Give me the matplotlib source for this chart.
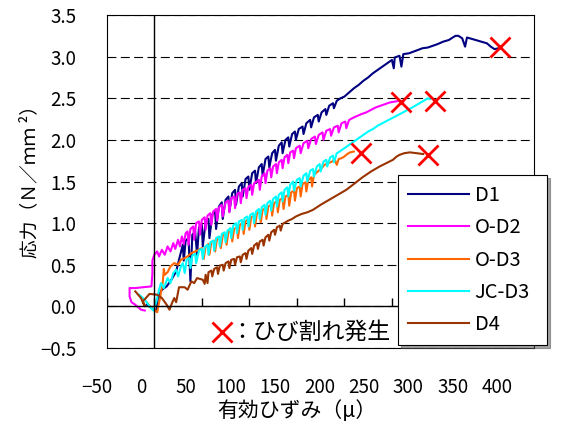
import matplotlib.pyplot as plt

plt.rcParams['font.family'] = ['Noto Sans CJK JP', 'DejaVu Sans']

# strain (micro) / stress (N/mm2)
d1_x = [-8, -3, 2, 4, 8, 13, 18, 23, 26, 30, 31, 33, 36, 38, 40, 43, 45, 47, 50, 51,
        54, 57, 58, 61, 64, 65, 68, 71, 72, 75, 78, 79, 82, 85, 86, 89, 92, 93, 96, 99,
        100, 103, 106, 107, 110, 113, 114, 117, 120, 121, 124, 127, 128, 131, 134, 135, 138, 141, 142, 145,
        148, 149, 152, 156, 157, 160, 164, 165, 168, 172, 173, 176, 180, 181, 184, 188, 189, 192, 196, 200,
        205, 210, 215, 220, 225, 230, 235, 240, 245, 250, 252, 253, 258, 260, 262, 268, 275, 282, 288, 293,
        298, 304, 310, 314, 317, 320, 324, 327, 329, 332, 338, 344, 350, 354, 358, 362]
d1_y = [0.02, -0.02, -0.06, 0.12, 0.2, 0.24, 0.32, 0.42, 0.56, 0.74, 0.55, 0.79, 0.82, 0.3, 0.86, 0.9, 0.62, 0.95, 0.98, 0.72,
        1.02, 1.05, 0.82, 1.1, 1.14, 0.93, 1.2, 1.25, 1.05, 1.28, 1.32, 1.14, 1.36, 1.4, 1.22, 1.44, 1.48, 1.32, 1.53, 1.56,
        1.4, 1.6, 1.63, 1.48, 1.67, 1.71, 1.57, 1.77, 1.8, 1.67, 1.84, 1.88, 1.75, 1.93, 1.97, 1.84, 2.0, 2.03, 1.92, 2.07,
        2.1, 2.0, 2.13, 2.16, 2.07, 2.2, 2.24, 2.15, 2.27, 2.3, 2.22, 2.33, 2.37, 2.3, 2.41, 2.44, 2.38, 2.47, 2.5, 2.52,
        2.57, 2.62, 2.66, 2.71, 2.75, 2.8, 2.84, 2.88, 2.92, 2.96, 2.86, 2.99, 3.01, 2.88, 3.03, 3.04, 3.07, 3.1, 3.11, 3.13,
        3.15, 3.18, 3.2, 3.23, 3.25, 3.25, 3.22, 3.12, 3.23, 3.22, 3.2, 3.18, 3.16, 3.12, 3.09, 3.1]

o2_x = [-10, -14, -20, -24, -26, -26, -20, -12, -3, -2, -2, 0, 3, 5, 8, 11, 14, 17, 20, 22,
        25, 27, 29, 31, 33, 35, 36, 38, 41, 42, 44, 47, 48, 50, 53, 54, 56, 59, 60, 62,
        65, 66, 68, 71, 72, 75, 78, 79, 81, 84, 85, 87, 90, 91, 93, 96, 97, 99, 102, 103,
        105, 108, 110, 111, 113, 116, 117, 119, 122, 123, 125, 128, 129, 131, 134, 135, 137, 140, 141, 143,
        146, 147, 149, 153, 154, 157, 161, 162, 165, 169, 170, 173, 177, 178, 181, 185, 186, 189, 193, 194,
        197, 201, 202, 205, 210, 214, 218, 223, 228, 233, 238, 243, 248, 253, 258, 262]
o2_y = [-0.05, -0.04, 0.02, 0.05, 0.12, 0.22, 0.22, 0.23, 0.24, 0.4, 0.55, 0.62, 0.66, 0.6, 0.68, 0.62, 0.72, 0.66, 0.76, 0.69,
        0.8, 0.72, 0.84, 0.75, 0.88, 0.9, 0.74, 0.93, 0.96, 0.8, 1.0, 1.02, 0.86, 1.04, 1.07, 0.92, 1.09, 1.12, 0.98, 1.14,
        1.17, 1.03, 1.19, 1.22, 1.08, 1.25, 1.27, 1.13, 1.3, 1.32, 1.18, 1.35, 1.37, 1.24, 1.4, 1.42, 1.3, 1.44, 1.46, 1.34,
        1.48, 1.5, 1.52, 1.4, 1.56, 1.6, 1.48, 1.63, 1.66, 1.55, 1.68, 1.71, 1.6, 1.73, 1.76, 1.66, 1.79, 1.82, 1.72, 1.85,
        1.87, 1.78, 1.9, 1.93, 1.84, 1.96, 1.99, 1.9, 2.01, 2.04, 1.95, 2.06, 2.09, 2.0, 2.11, 2.13, 2.05, 2.15, 2.17, 2.09,
        2.2, 2.22, 2.14, 2.24, 2.27, 2.29, 2.31, 2.33, 2.36, 2.39, 2.41, 2.43, 2.45, 2.46, 2.47, 2.46]

o3_x = [-8, -3, 3, 6, 9, 10, 11, 14, 17, 21, 25, 28, 32, 35, 39, 43, 47, 50, 52, 54,
        57, 58, 60, 63, 64, 66, 69, 70, 72, 75, 76, 78, 81, 82, 84, 87, 88, 90, 93, 94,
        96, 99, 100, 102, 105, 106, 108, 111, 112, 114, 117, 118, 120, 123, 124, 126, 129, 130, 132, 135,
        136, 138, 141, 142, 144, 147, 148, 150, 153, 154, 156, 159, 160, 162, 165, 166, 168, 172, 176, 179,
        183, 187, 190, 192, 194, 197, 200, 203, 206, 210]
o3_y = [0.05, -0.02, -0.07, 0.1, 0.3, 0.45, 0.38, 0.41, 0.48, 0.52, 0.5, 0.56, 0.58, 0.6, 0.64, 0.66, 0.68, 0.7, 0.57, 0.72,
        0.75, 0.62, 0.77, 0.79, 0.66, 0.81, 0.83, 0.7, 0.85, 0.87, 0.74, 0.89, 0.91, 0.78, 0.93, 0.95, 0.82, 0.98, 1.0, 0.87,
        1.02, 1.05, 0.92, 1.07, 1.09, 0.96, 1.12, 1.14, 1.01, 1.16, 1.18, 1.05, 1.2, 1.22, 1.09, 1.24, 1.26, 1.13, 1.28, 1.3,
        1.17, 1.32, 1.34, 1.21, 1.37, 1.39, 1.27, 1.42, 1.44, 1.32, 1.47, 1.49, 1.38, 1.52, 1.55, 1.44, 1.58, 1.62, 1.66, 1.7,
        1.72, 1.74, 1.76, 1.7, 1.77, 1.78, 1.8, 1.83, 1.85, 1.86]

jc_x = [-16, -10, -5, -1, 2, 5, 7, 10, 14, 17, 20, 23, 25, 28, 30, 32, 34, 37, 38, 40,
        43, 44, 47, 50, 51, 53, 56, 57, 59, 62, 63, 65, 68, 69, 71, 74, 75, 77, 80, 81,
        83, 86, 87, 89, 92, 93, 95, 98, 99, 101, 104, 105, 107, 110, 111, 113, 116, 117, 119, 122,
        123, 125, 128, 129, 131, 134, 135, 137, 140, 141, 143, 146, 147, 150, 153, 154, 157, 160, 161, 164,
        167, 168, 171, 174, 175, 178, 181, 182, 185, 188, 189, 192, 195, 200, 205, 210, 215, 220, 225, 230,
        235, 240, 245, 250, 255, 260, 265, 270, 276, 282, 288, 290]
jc_y = [0.14, 0.08, 0.0, -0.05, 0.05, 0.2, 0.28, 0.22, 0.34, 0.28, 0.4, 0.44, 0.36, 0.48, 0.52, 0.4, 0.56, 0.58, 0.46, 0.61,
        0.63, 0.52, 0.67, 0.69, 0.57, 0.71, 0.74, 0.62, 0.77, 0.79, 0.67, 0.82, 0.84, 0.72, 0.87, 0.89, 0.77, 0.91, 0.94, 0.82,
        0.97, 1.0, 0.88, 1.02, 1.04, 0.92, 1.06, 1.08, 0.96, 1.1, 1.12, 1.0, 1.14, 1.17, 1.05, 1.19, 1.22, 1.1, 1.24, 1.27,
        1.15, 1.29, 1.32, 1.2, 1.34, 1.37, 1.26, 1.4, 1.43, 1.32, 1.46, 1.5, 1.39, 1.52, 1.54, 1.44, 1.57, 1.6, 1.5, 1.63,
        1.65, 1.56, 1.68, 1.71, 1.62, 1.74, 1.76, 1.68, 1.79, 1.81, 1.73, 1.84, 1.86, 1.9, 1.94, 1.98, 2.02, 2.06, 2.1, 2.13,
        2.17, 2.2, 2.23, 2.26, 2.29, 2.32, 2.35, 2.38, 2.42, 2.46, 2.5, 2.49]

d4_x = [-20, -14, -10, -12, -5, 3, 8, 13, 16, 19, 21, 23, 26, 32, 35, 39, 42, 45, 48, 51,
        53, 54, 56, 57, 60, 61, 63, 66, 67, 69, 72, 73, 75, 78, 79, 81, 84, 85, 87, 90,
        91, 93, 96, 97, 99, 102, 103, 105, 108, 109, 111, 114, 115, 117, 120, 121, 123, 126, 127, 129,
        132, 133, 135, 138, 141, 145, 149, 155, 161, 167, 175, 184, 193, 202, 210, 219, 228, 237, 244, 251,
        255, 258, 263, 269, 276, 283]
d4_y = [0.18, 0.1, 0.0, 0.06, 0.15, 0.14, 0.1, 0.02, -0.04, 0.05, 0.1, 0.05, 0.23, 0.23, 0.2, 0.3, 0.28, 0.34, 0.33, 0.32,
        0.27, 0.38, 0.28, 0.41, 0.43, 0.36, 0.45, 0.47, 0.39, 0.49, 0.5, 0.43, 0.52, 0.54, 0.46, 0.56, 0.57, 0.5, 0.59, 0.6,
        0.53, 0.62, 0.64, 0.57, 0.67, 0.7, 0.63, 0.73, 0.76, 0.69, 0.78, 0.8, 0.73, 0.83, 0.86, 0.79, 0.89, 0.92, 0.86, 0.95,
        0.97, 0.91, 0.99, 1.01, 1.03, 1.05, 1.08, 1.11, 1.13, 1.16, 1.22, 1.28, 1.34, 1.4, 1.47, 1.55, 1.62, 1.68, 1.72, 1.76,
        1.8, 1.82, 1.84, 1.85, 1.84, 1.83]

# crack initiation points
crack_x = [364, 260, 218, 295, 288]
crack_y = [3.11, 2.45, 1.84, 2.47, 1.82]

note_x = [71]
note_y = [-0.31]

names = ['D1', 'O-D2', 'O-D3', 'JC-D3', 'D4']
colors = ['#000080', '#FF00FF', '#FF6600', '#00FFFF', '#993300']
xs = [d1_x, o2_x, o3_x, jc_x, d4_x]
ys = [d1_y, o2_y, o3_y, jc_y, d4_y]

xticks = [-50, 0, 50, 100, 150, 200, 250, 300, 350, 400]
yticks = [-0.5, 0.0, 0.5, 1.0, 1.5, 2.0, 2.5, 3.0, 3.5]

fig = plt.figure(figsize=(5.62, 4.30), dpi=100)
ax = fig.add_axes([0.19, 0.1907, 0.761, 0.7744])

for name, x, y, c in zip(names, xs, ys, colors):
    ax.plot(x, y, color=c, lw=1.5, label=name)

ax.plot(crack_x, crack_y, 'x', color='red', ms=14, mew=2, ls='none')
ax.plot(note_x, note_y, 'x', color='red', ms=14, mew=2, ls='none')
ax.text(note_x[0] + 8.5, note_y[0], '：ひび割れ発生', fontsize=16.5, va='center', ha='left')

ax.set_xlim(-50, 400)
ax.set_ylim(-0.5, 3.5)
ax.set_yticks(yticks)
ax.set_xticks([])
ax.yaxis.grid(True, linestyle=(0, (8, 4)), color='black', lw=0.8)
ax.axvline(0, color='black', lw=1)
ax.axhline(0, color='black', lw=1)
# small tick marks standing on the zero-stress line
ax.vlines(xticks, 0, 0.1, color='black', lw=1)
ax.tick_params(axis='y', length=0, pad=22, labelsize=13.5)
for s in ax.spines.values():
    s.set_color('black')
    s.set_linewidth(0.8)

# the x tick labels in the original are spaced a bit tighter than the ticks
lab = fig.add_axes([97 / 562, 0.1907, 400 / 562, 0.7744])
lab.set_xlim(-50, 400)
lab.set_xticks(xticks)
lab.set_yticks([])
lab.tick_params(axis='x', length=0, pad=21, labelsize=13.5)
lab.set_frame_on(False)
lab.patch.set_visible(False)
lab.set_zorder(-1)

ax.set_xlabel('有効ひずみ（μ）', fontsize=15)
ax.xaxis.set_label_coords(0.445, -0.155)
ax.set_ylabel('応力（Ｎ／ｍｍ ²）', fontsize=13.5)
ax.yaxis.set_label_coords(-0.156, 0.514)

leg = ax.legend(loc='upper left', bbox_to_anchor=(0.681, 0.0, 0.349, 0.5195), mode='expand',
                borderaxespad=0, fontsize=14.5, handlelength=3.0, handletextpad=0.3,
                labelspacing=0.56, frameon=True, fancybox=False, shadow=True, framealpha=1,
                edgecolor='black', borderpad=0.5)
leg.get_frame().set_linewidth(0.8)

fig.savefig('out.png', dpi=100)
